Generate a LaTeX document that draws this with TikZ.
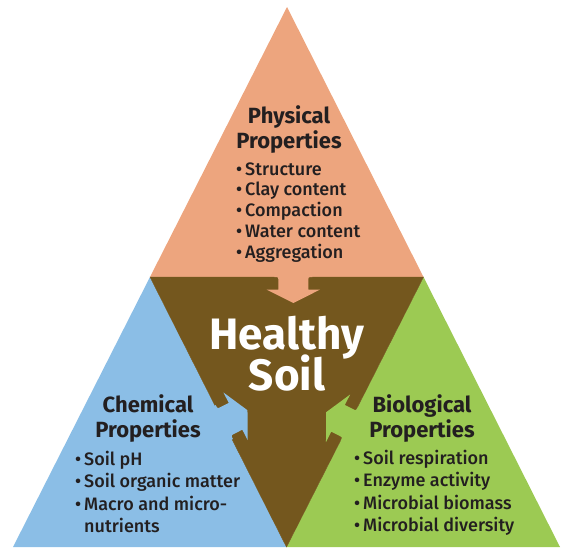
\documentclass[tikz,border=0pt]{standalone}
\usepackage{fontspec}
\setmainfont{Fira Sans}
\newfontfamily\listfont{Fira Sans Medium}
\usetikzlibrary{positioning}
\definecolor{physcol}{RGB}{237,165,126}
\definecolor{chemcol}{RGB}{139,190,230}
\definecolor{biocol}{RGB}{156,202,83}
\definecolor{soilcol}{RGB}{116,87,30}
\definecolor{inkcol}{RGB}{35,31,32}
\tikzstyle{heading} = [inner sep=0pt, anchor=base, text=inkcol, font=\fontsize{22}{25}\selectfont\bfseries]
\tikzstyle{itemlist} = [inner sep=0pt, anchor=base west, text=inkcol, font=\listfont\fontsize{18}{22.5}\selectfont]
\tikzstyle{title} = [inner sep=0pt, anchor=base, text=white, font=\fontsize{44}{41}\selectfont\bfseries]
\tikzset{notch/.pic={
  \fill[pic actions] (-6,-19) -- (0,-19) .. controls (0,-15) .. (4,-15) -- (12.6,-15) -- (12.6,-26.7)
    -- (26,0) -- (12.6,26.7) -- (12.6,15) -- (4,15) .. controls (0,15) .. (0,19) -- (-6,19) -- cycle;
}}

\begin{document}
\begin{tikzpicture}[x=1pt, y=-1pt]
\useasboundingbox (0,0) rectangle (561,547);

\coordinate (apex) at (287,7);
\coordinate (bl) at (13,547);
\coordinate (br) at (560,547);
\coordinate (ml) at (150,277);
\coordinate (mr) at (423.5,277);
\coordinate (mb) at (286.5,547);

\fill[physcol] (apex) -- (mr) -- (ml) -- cycle;
\fill[chemcol] (ml) -- (mb) -- (bl) -- cycle;
\fill[biocol] (mr) -- (br) -- (mb) -- cycle;
\filldraw[soilcol, line width=0.4pt] (ml) -- (mr) -- (mb) -- cycle;

\pic[rotate=-90, fill=physcol] at (293.3,277) {notch};
\pic[rotate=26.9, fill=chemcol] at (224.3,422) {notch};
\pic[rotate=153.1, fill=biocol] at (349.3,424) {notch};

\node[heading] (phys) at (289,123) {\begin{tabular}[t]{@{}c@{}}Physical\\Properties\end{tabular}};
\node[itemlist, font=\listfont\fontsize{18}{20.8}\selectfont] (physlist) at (236,175) {\begin{tabular}[t]{@{}l@{\hspace{3pt}}l@{}}
  \textbullet & Structure\\
  \textbullet & Clay content\\
  \textbullet & Compaction\\
  \textbullet & Water content\\
  \textbullet & Aggregation
\end{tabular}};

\node[title] (soil) at (287,349) {\begin{tabular}[t]{@{}c@{}}\smash{Healthy}\\\smash{Soil}\end{tabular}};

\node[heading] (chem) at (148,412) {\begin{tabular}[t]{@{}c@{}}Chemical\\Properties\end{tabular}};
\node[itemlist] (chemlist) at (75,465) {\begin{tabular}[t]{@{}l@{\hspace{3pt}}l@{}}
  \textbullet & Soil pH\\
  \textbullet & Soil organic matter\\
  \textbullet & Macro and micro-\\
              & nutrients
\end{tabular}};

\node[heading] (bio) at (422,412) {\begin{tabular}[t]{@{}c@{}}Biological\\Properties\end{tabular}};
\node[itemlist] (biolist) at (354,464) {\begin{tabular}[t]{@{}l@{\hspace{3pt}}l@{}}
  \textbullet & Soil respiration\\
  \textbullet & Enzyme activity\\
  \textbullet & Microbial biomass\\
  \textbullet & Microbial diversity
\end{tabular}};
\end{tikzpicture}
\end{document}
